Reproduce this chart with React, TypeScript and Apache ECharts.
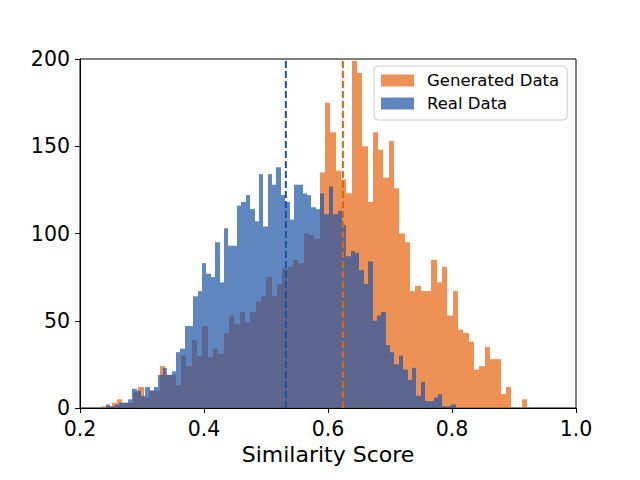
import React, { useEffect, useRef } from "react";
import * as echarts from "echarts";

// Histogram counts (80 bins each)
const generatedCounts = [
  1, 1, 3, 5, 3, 3, 9, 12, 6, 10,
  10, 24, 19, 19, 13, 30, 24, 39, 30, 47,
  29, 34, 31, 43, 53, 48, 55, 49, 55, 61,
  64, 75, 64, 71, 80, 81, 85, 83, 100, 99,
  97, 135, 175, 158, 136, 131, 123, 199, 192, 150,
  118, 158, 148, 132, 153, 126, 100, 95, 67, 70,
  67, 67, 85, 72, 81, 53, 67, 45, 43, 38,
  22, 24, 35, 28, 28, 8, 12, 0, 0, 5,
];
const realCounts = [
  2, 1, 2, 3, 3, 5, 11, 10, 7, 12,
  10, 12, 19, 23, 19, 21, 32, 34, 47, 47,
  64, 67, 83, 77, 75, 95, 72, 103, 93, 93,
  116, 118, 122, 114, 107, 134, 104, 134, 128, 138,
  122, 118, 108, 128, 128, 123, 122, 115, 114, 123,
  111, 127, 111, 113, 105, 87, 90, 89, 79, 71,
  84, 50, 53, 55, 36, 32, 25, 30, 22, 16,
  23, 7, 15, 4, 4, 6, 8, 1, 1, 2,
];
// Data ranges of each histogram (min, max score)
const generatedRange = [0.2339, 0.9216];
const realRange = [0.2419, 0.8058];
// Mean similarity (dashed lines)
const generatedMean = 0.624;
const realMean = 0.532;
// Axes
const xMin = 0.2;
const xMax = 1.0;
const xStep = 0.2;
const yMin = 0;
const yMax = 200;
const yStep = 50;

const GEN_FILL = "rgba(229,98,12,0.7)";
const REAL_FILL = "rgba(28,82,165,0.7)";
const GEN_LINE = "#E5620C";
const REAL_LINE = "#1C52A5";
const FONT = "DejaVu Sans";

function bins(counts: number[], range: number[]) {
  const n = counts.length;
  const w = (range[1] - range[0]) / n;
  return counts.map((c, i) => [range[0] + i * w, range[0] + (i + 1) * w, c]);
}

function renderBar(fill: string) {
  return (params: any, api: any) => {
    const p0 = api.coord([api.value(0), 0]);
    const p1 = api.coord([api.value(1), api.value(2)]);
    const x0 = Math.round(p0[0]);
    const x1 = Math.round(p1[0]);
    const yb = p0[1];
    const yt = p1[1];
    return {
      type: "rect",
      shape: { x: x0, y: yt, width: x1 - x0, height: yb - yt },
      style: { fill },
    };
  };
}

export default function App() {
  const ref = useRef<HTMLDivElement>(null);
  useEffect(() => {
    if (!ref.current) return;
    const chart = echarts.init(ref.current, null, { renderer: "svg" });
    chart.setOption({
      animation: false,
      backgroundColor: "#ffffff",
      grid: {
        left: 80,
        right: 64,
        top: 59,
        bottom: 72,
        show: true,
        borderColor: "#000",
        borderWidth: 1,
        backgroundColor: "transparent",
      },
      legend: {
        orient: "vertical",
        left: 374,
        top: 66,
        data: ["Generated Data", "Real Data"],
        itemWidth: 33,
        itemHeight: 12,
        itemGap: 6,
        padding: [6, 8, 8, 7],
        borderColor: "#cccccc",
        borderWidth: 1,
        borderRadius: 4,
        backgroundColor: "rgba(255,255,255,0.8)",
        icon: "rect",
        textStyle: {
          fontFamily: FONT,
          fontSize: 16.5,
          color: "#000",
          lineHeight: 16,
          padding: [0, 0, 0, 8],
        },
      },
      xAxis: {
        type: "value",
        min: xMin,
        max: xMax,
        interval: xStep,
        name: "Similarity Score",
        nameLocation: "middle",
        nameGap: 35,
        nameTextStyle: { fontFamily: FONT, fontSize: 22, color: "#000" },
        axisLine: { show: true, lineStyle: { color: "#000", width: 1 } },
        axisTick: { show: true, length: 5, lineStyle: { color: "#000", width: 1 } },
        axisLabel: {
          fontFamily: FONT,
          fontSize: 20.5,
          color: "#000",
          margin: 10,
          formatter: (v: number) => v.toFixed(1),
        },
        splitLine: { show: false },
      },
      yAxis: {
        type: "value",
        min: yMin,
        max: yMax,
        interval: yStep,
        axisLine: { show: true, lineStyle: { color: "#000", width: 1 } },
        axisTick: { show: true, length: 5, lineStyle: { color: "#000", width: 1 } },
        axisLabel: {
          fontFamily: FONT,
          fontSize: 20.5,
          color: "#000",
          margin: 10,
        },
        splitLine: { show: false },
      },
      series: [
        {
          name: "Generated Data",
          type: "custom",
          renderItem: renderBar(GEN_FILL),
          itemStyle: { color: GEN_FILL },
          encode: { x: [0, 1], y: 2 },
          data: bins(generatedCounts, generatedRange),
          z: 2,
        },
        {
          name: "Real Data",
          type: "custom",
          renderItem: renderBar(REAL_FILL),
          itemStyle: { color: REAL_FILL },
          encode: { x: [0, 1], y: 2 },
          data: bins(realCounts, realRange),
          z: 3,
        },
        {
          name: "genMean",
          type: "line",
          data: [
            [generatedMean, yMin],
            [generatedMean, yMax],
          ],
          showSymbol: false,
          symbol: "none",
          silent: true,
          lineStyle: { color: GEN_LINE, width: 2, type: [7, 3] },
          z: 4,
        },
        {
          name: "realMean",
          type: "line",
          data: [
            [realMean, yMin],
            [realMean, yMax],
          ],
          showSymbol: false,
          symbol: "none",
          silent: true,
          lineStyle: { color: REAL_LINE, width: 2, type: [7, 3] },
          z: 4,
        },
      ],
    });
    return () => chart.dispose();
  }, []);
  return (
    <div
      ref={ref}
      style={{ position: "fixed", left: 0, top: 0, width: 640, height: 480 }}
    />
  );
}
